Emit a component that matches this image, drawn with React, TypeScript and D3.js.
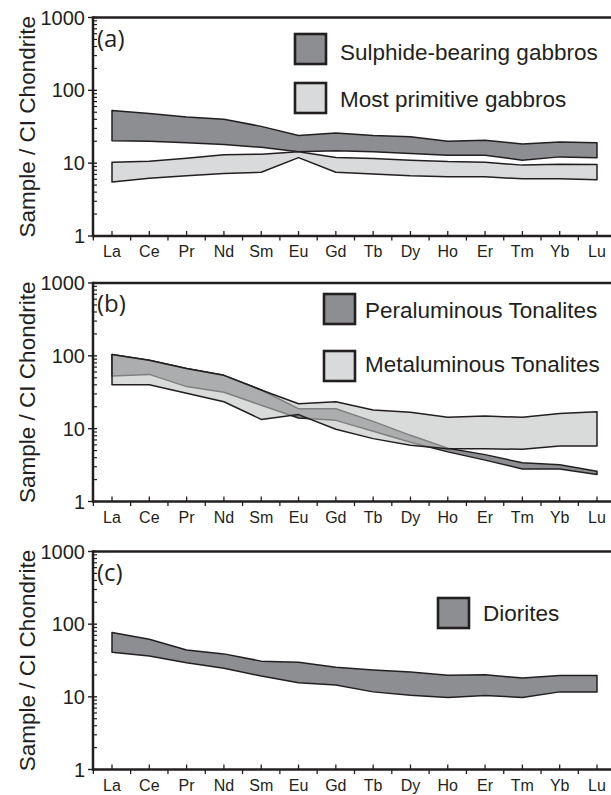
import React from 'react';
import * as d3 from 'd3';

const categories = ['La', 'Ce', 'Pr', 'Nd', 'Sm', 'Eu', 'Gd', 'Tb', 'Dy', 'Ho', 'Er', 'Tm', 'Yb', 'Lu'];
const yTickValues = [1, 10, 100, 1000];
const yTickLabels = ['1', '10', '100', '1000'];

// Panel (a)
const sulphideTop = [53, 48, 43, 40, 32, 24, 26, 24, 23, 20, 20.7, 18.3, 19.5, 19];
const sulphideBottom = [20.3, 20, 19, 18, 16.5, 14.3, 14.8, 14.3, 13.6, 12.8, 12.8, 11, 12.2, 11.9];
const primitiveTop = [10.3, 10.6, 11.7, 13, 13.3, 14.3, 12, 11.6, 11, 10.5, 10.3, 9.4, 9.7, 9.6];
const primitiveBottom = [5.5, 6.2, 6.7, 7.2, 7.5, 11.9, 7.5, 7.1, 6.7, 6.5, 6.5, 6.1, 6.1, 5.9];

// Panel (b)
const peraTop = [104, 87, 67, 54, 34, 18.8, 18.8, 12.6, 8.1, 5.4, 4.4, 3.4, 3.2, 2.6];
const peraBottom = [53, 55.6, 37.8, 31.6, 21, 14, 13, 9.2, 6.5, 4.8, 3.7, 2.8, 2.8, 2.35];
const metaTop = [104, 87, 67, 54, 34, 22, 23.4, 18, 16.8, 14.3, 14.9, 14.3, 16.1, 17.1];
const metaBottom = [40, 40, 30.6, 23.4, 13.4, 15.6, 9.8, 7.3, 5.9, 5.3, 5.3, 5.2, 5.8, 5.8];

// Panel (c)
const dioriteTop = [77, 62, 44, 39, 31, 30, 25.5, 23.4, 22, 19.8, 20.2, 18.1, 19.6, 19.6];
const dioriteBottom = [41, 36.5, 29.5, 24.7, 19.3, 15.6, 14.5, 11.7, 10.5, 9.8, 10.4, 9.8, 11.7, 11.7];

const panelLetters = ['(a)', '(b)', '(c)'];
const legendA = ['Sulphide-bearing gabbros', 'Most primitive gabbros'];
const legendB = ['Peraluminous Tonalites', 'Metaluminous Tonalites'];
const legendC = ['Diorites'];

const W = 611;
const H = 795;
const AXIS_X = 93;
const RIGHT = 620;
const INK = '#231f20';
const DARK = '#8d8e91';
const LIGHT = '#d9dadb';
const SANS = '"Liberation Sans", Arial, Helvetica, sans-serif';

const x = d3.scalePoint<string>().domain(categories).range([112, 597]);

type Band = { top: number[]; bottom: number[]; fill: string; opacity?: number };
type LegendItem = { label: string; fill: string; bx: number; by: number; tx: number; ty: number };

function Panel({ top, bottom, letter, bands, legend }: { top: number; bottom: number; letter: string; bands: Band[]; legend: LegendItem[] }) {
  const y = d3.scaleLog().domain([1, 1000]).range([bottom, top]);
  const area = (b: Band) =>
    d3
      .area<number>()
      .x((_, i) => x(categories[i]) as number)
      .y0((_, i) => y(b.bottom[i]))
      .y1((_, i) => y(b.top[i]))(b.top.map((_, i) => i)) as string;

  const minorTicks: number[] = [];
  for (const dec of [1, 10, 100]) {
    for (let m = 2; m <= 9; m++) minorTicks.push(dec * m);
  }
  const step = x.step();
  const midTicks = categories.slice(0, -1).map((c) => (x(c) as number) + step / 2);
  midTicks.unshift((x(categories[0]) as number) - step / 2);
  midTicks.push((x(categories[categories.length - 1]) as number) + step / 2);

  return (
    <g>
      {bands.map((b, i) => (
        <path key={i} d={area(b)} fill={b.fill} fillOpacity={b.opacity ?? 1} stroke={INK} strokeWidth={1.5} strokeLinejoin="round" />
      ))}
      {/* frame */}
      <line x1={AXIS_X} x2={RIGHT} y1={top} y2={top} stroke={INK} strokeWidth={2.5} />
      <line x1={AXIS_X} x2={RIGHT} y1={bottom} y2={bottom} stroke={INK} strokeWidth={2.5} />
      <line x1={AXIS_X} x2={AXIS_X} y1={top - 1.25} y2={bottom + 1.25} stroke={INK} strokeWidth={2.5} />
      {/* y ticks */}
      {minorTicks.map((v) => (
        <line key={v} x1={AXIS_X} x2={AXIS_X + 4} y1={y(v)} y2={y(v)} stroke={INK} strokeWidth={1.2} />
      ))}
      {yTickValues.map((v, i) => (
        <g key={v}>
          <line x1={AXIS_X - 5} x2={AXIS_X + 4} y1={y(v)} y2={y(v)} stroke={INK} strokeWidth={1.4} />
          <text x={AXIS_X - 8} y={y(v) + 7} textAnchor="end" fontFamily={SANS} fontSize={20} fill={INK}>
            {yTickLabels[i]}
          </text>
        </g>
      ))}
      {/* x ticks */}
      {categories.map((c) => (
        <line key={c} x1={x(c)} x2={x(c)} y1={bottom} y2={bottom - 5} stroke={INK} strokeWidth={1.3} />
      ))}
      {midTicks.map((m, i) => (
        <line key={i} x1={m} x2={m} y1={bottom} y2={bottom + 4.5} stroke={INK} strokeWidth={1.3} />
      ))}
      {categories.map((c) => (
        <text key={c} x={x(c)} y={bottom + 21} textAnchor="middle" fontFamily={SANS} fontSize={16} fill={INK}>
          {c}
        </text>
      ))}
      {/* y title */}
      <text
        transform={`translate(35,${(top + bottom) / 2}) rotate(-90)`}
        textAnchor="middle"
        fontFamily={SANS}
        fontSize={22.5}
        fill={INK}
      >
        Sample / CI Chondrite
      </text>
      {/* panel letter */}
      <text x={97} y={top + 29} fontFamily='"Open Sans", sans-serif' fontSize={24} fill={INK}>
        {letter}
      </text>
      {/* legend */}
      {legend.map((l) => (
        <g key={l.label}>
          <rect x={l.bx} y={l.by} width={31} height={30} fill={l.fill} stroke={INK} strokeWidth={2.6} />
          <text x={l.tx} y={l.ty} fontFamily={SANS} fontSize={22.5} fill={INK}>
            {l.label}
          </text>
        </g>
      ))}
    </g>
  );
}

export default function App() {
  return (
    <svg width={W} height={H} style={{ position: 'absolute', left: 0, top: 0, background: '#fff' }}>
      <rect width={W} height={H} fill="#fff" />
      <Panel
        top={17.5}
        bottom={236}
        letter={panelLetters[0]}
        bands={[
          { top: sulphideTop, bottom: sulphideBottom, fill: DARK },
          { top: primitiveTop, bottom: primitiveBottom, fill: LIGHT },
        ]}
        legend={[
          { label: legendA[0], fill: DARK, bx: 295, by: 34, tx: 340, ty: 60 },
          { label: legendA[1], fill: LIGHT, bx: 295, by: 83, tx: 340, ty: 107 },
        ]}
      />
      <Panel
        top={283}
        bottom={501.5}
        letter={panelLetters[1]}
        bands={[
          { top: peraTop, bottom: peraBottom, fill: DARK },
          { top: metaTop, bottom: metaBottom, fill: '#c0c1c2', opacity: 0.6 },
        ]}
        legend={[
          { label: legendB[0], fill: DARK, bx: 324, by: 294, tx: 365, ty: 318 },
          { label: legendB[1], fill: LIGHT, bx: 324, by: 351, tx: 365, ty: 372 },
        ]}
      />
      <Panel
        top={551.5}
        bottom={769.5}
        letter={panelLetters[2]}
        bands={[{ top: dioriteTop, bottom: dioriteBottom, fill: DARK }]}
        legend={[{ label: legendC[0], fill: DARK, bx: 438, by: 598, tx: 483, ty: 621 }]}
      />
    </svg>
  );
}
